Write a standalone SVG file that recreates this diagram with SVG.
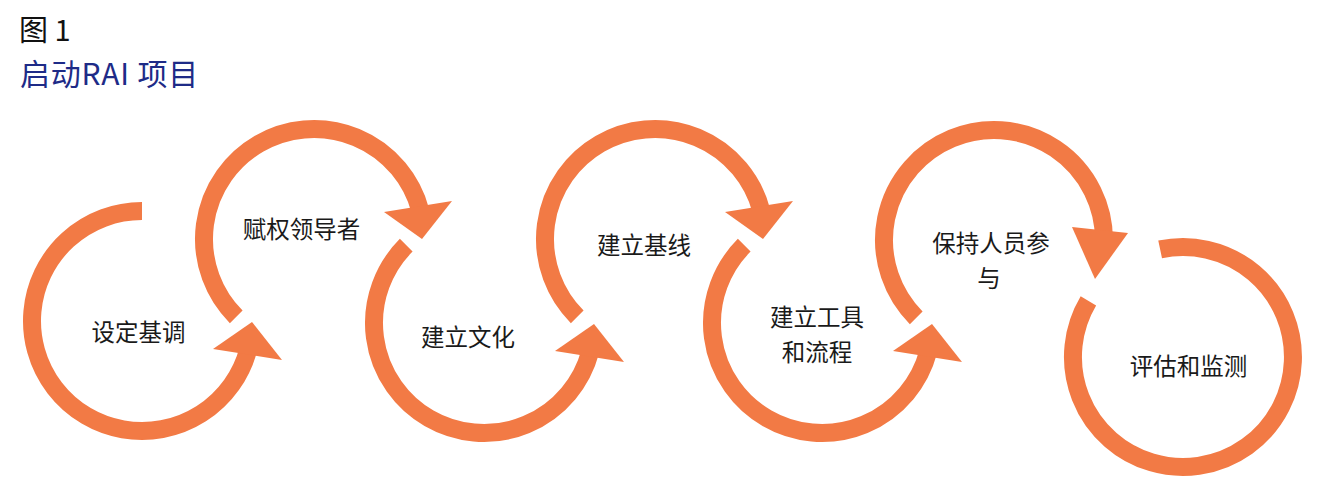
<svg xmlns="http://www.w3.org/2000/svg" width="1317" height="484" viewBox="0 0 1317 484">
<style>
.arc{fill:none;stroke:#F27A45;stroke-width:18}
.head{fill:#F27A45}
.lbl{font-family:"Noto Sans CJK SC","Noto Sans",sans-serif;font-size:23.5px;fill:#1a1a1a;text-anchor:middle;dominant-baseline:central}
.t1{font-family:"Noto Sans CJK SC","Noto Sans",sans-serif;font-size:29px;fill:#111}
.t2{font-family:"Noto Sans CJK SC","Noto Sans",sans-serif;font-size:30px;letter-spacing:0.8px;fill:#1E2B87}
</style>
<rect width="1317" height="484" fill="#fff"/>
<text class="t1" x="19" y="41">图 1</text>
<text class="t2" x="20" y="85">启动RAI 项目</text>

<g id="step1">
<path class="arc" transform="translate(142,321)" d="M0,-110 A110,110 0 1 0 106.25,28.47"/>
<text class="lbl" x="138.5" y="331">设定基调</text>
</g>
<g id="step2">
<path class="arc" transform="translate(314,239)" d="M-77.78,77.78 A110,110 0 1 1 106.25,-28.47"/>
<text class="lbl" x="301.5" y="228">赋权领导者</text>
</g>
<g id="step3">
<path class="arc" transform="translate(484,323)" d="M-77.78,-77.78 A110,110 0 1 0 106.25,28.47"/>
<text class="lbl" x="468" y="336">建立文化</text>
</g>
<g id="step4">
<path class="arc" transform="translate(655,239)" d="M-77.78,77.78 A110,110 0 1 1 106.25,-28.47"/>
<text class="lbl" x="644" y="244">建立基线</text>
</g>
<g id="step5">
<path class="arc" transform="translate(822,323)" d="M-77.78,-77.78 A110,110 0 1 0 106.25,28.47"/>
<text class="lbl"><tspan x="817" y="316">建立工具</tspan><tspan x="817" y="350.5">和流程</tspan></text>
</g>
<g id="step6">
<path class="arc" transform="translate(994,240)" d="M-77.78,77.78 A110,110 0 1 1 110,0"/>
<text class="lbl"><tspan x="991" y="242">保持人员参</tspan><tspan x="989" y="276.5">与</tspan></text>
</g>
<g id="step7">
<path class="arc" transform="translate(1183,357)" d="M-94.6,-56.2 A110,110 0 1 0 -22.87,-107.6"/>
<text class="lbl" x="1188.5" y="364.5">评估和监测</text>
</g>

<g id="connectors">
<polygon class="head" points="213,349 252,322 282,360"/>
<polygon class="head" points="384,212 422,239 452,201"/>
<polygon class="head" points="555,351 594,324 624,362"/>
<polygon class="head" points="725,212 763,239 793,201"/>
<polygon class="head" points="893,351 932,324 962,362"/>
<polygon class="head" points="1072,227 1095,279 1128,233"/>
</g>
</svg>
